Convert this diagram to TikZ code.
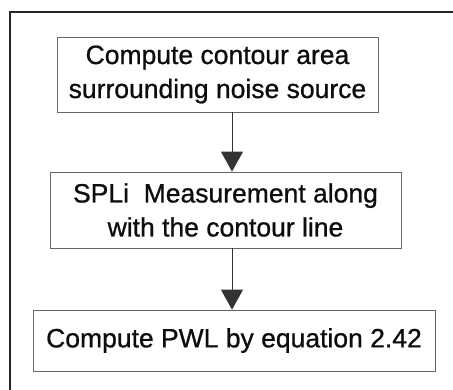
\documentclass[tikz,border=0pt]{standalone}
\usepackage{fontspec}
\setmainfont{Liberation Sans}
\newfontfamily\heavyarial{Liberation Sans}[FakeBold=0.8]
\usetikzlibrary{arrows.meta}
\begin{document}
\begin{tikzpicture}[x=1pt,y=-1pt,
  stepbox/.style={draw=black!60, line width=0.8pt, inner sep=0pt, align=center,
    text=black!95, font=\heavyarial\fontsize{26.5}{34}\selectfont},
  flow/.style={draw=black!80, line width=0.8pt,
    -{Triangle[width=22pt,length=20pt]}}]
  \useasboundingbox (0,0) rectangle (453,389);
  \clip (0,0) rectangle (453,389);
  \fill[white] (0,0) rectangle (453,389);
  % outer frame, running off the right and bottom edges
  \coordinate (fbl) at (10,400);
  \coordinate (ftl) at (10,12);
  \coordinate (ftr) at (470,12);
  \draw[line width=2pt, black!85] (fbl) -- (ftl) -- (ftr);
  % process steps
  \node[stepbox, minimum width=321pt, minimum height=75pt] (s1) at (217.5,74.5)
    {Compute contour area\\surrounding noise source};
  \node[stepbox, minimum width=351pt, minimum height=76pt] (s2) at (225.5,210)
    {SPLi\ \ Measurement along\\with the contour line};
  \node[stepbox, minimum width=402pt, minimum height=61pt] (s3) at (234,340.5)
    {Compute PWL by equation 2.42};
  \draw[flow] (s1.south -| 232,0) -- (s2.north -| 232,0);
  \draw[flow] (s2.south -| 232,0) -- (s3.north -| 232,0);
\end{tikzpicture}
\end{document}
